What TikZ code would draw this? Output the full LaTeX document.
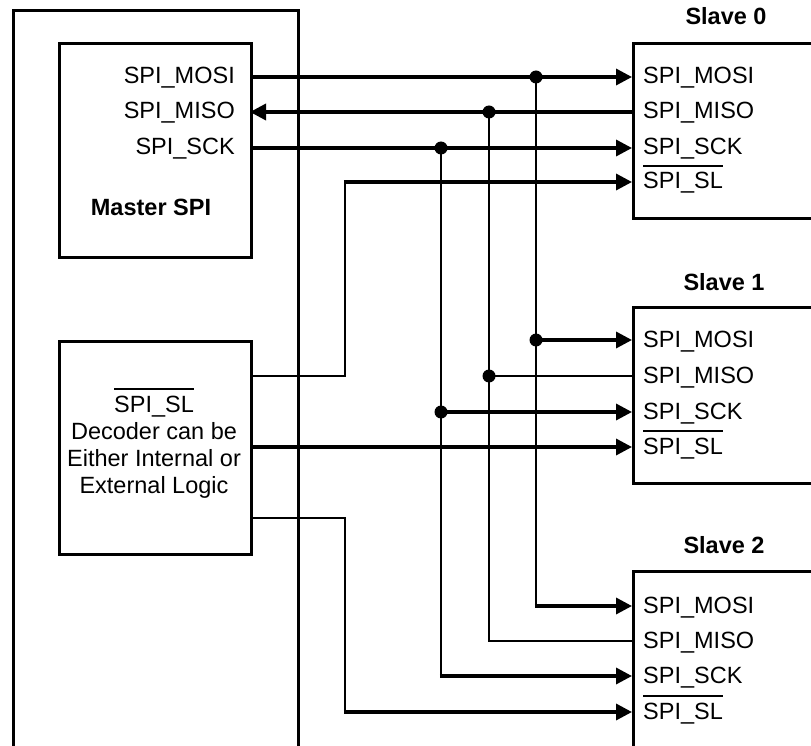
\documentclass[tikz,border=0pt]{standalone}
\usepackage{fontspec}
\setmainfont{Liberation Sans}
\usetikzlibrary{arrows.meta}
\newcommand\ovltext[1]{\setbox0\hbox{#1}\rlap{\rule[22pt]{\wd0}{1.8pt}}\box0}
\begin{document}
\begin{tikzpicture}[x=1pt,y=-1pt,
  lbl/.style={font=\fontsize{23.5}{27}\selectfont, inner sep=0pt},
  bold/.style={font=\fontsize{23.5}{27}\selectfont\bfseries, inner sep=0pt},
  box/.style={draw, line width=2.6pt, rectangle, inner sep=0pt, anchor=north west},
  sig/.style={line width=3.4pt},
  wire/.style={line width=2.4pt},
  arr/.style={-{Triangle[length=16pt,width=16pt]}},
  dot/.style={circle, fill, inner sep=0pt, minimum size=13pt}]
\useasboundingbox (0,0) rectangle (811,746);
\clip (0,0) rectangle (811,746);

% boxes
\node[box, minimum width=285pt, minimum height=800pt] (outer) at (12,9) {};
\node[box, minimum width=192pt, minimum height=214pt] (master) at (58,42) {};
\node[box, minimum width=192pt, minimum height=213pt] (decoder) at (58,340) {};
\node[box, minimum width=300pt, minimum height=175pt] (slave0) at (632,42.5) {};
\node[box, minimum width=300pt, minimum height=176pt] (slave1) at (632,306) {};
\node[box, minimum width=300pt, minimum height=300pt] (slave2) at (632,570) {};

% labels
\node[bold, anchor=base] (lslave0) at (726,25) {Slave 0};
\node[bold, anchor=base] (lslave1) at (724,290) {Slave 1};
\node[bold, anchor=base] (lslave2) at (724,553) {Slave 2};
\node[bold, anchor=base] (lmaster) at (151,215) {Master SPI};

\node[lbl, anchor=base east] (tm1) at (235,84) {SPI\_MOSI};
\node[lbl, anchor=base east] (tm2) at (235,119) {SPI\_MISO};
\node[lbl, anchor=base east] (tm3) at (235,155) {SPI\_SCK};

\node[lbl, anchor=base] (td1) at (154,412) {\ovltext{SPI\_SL}};
\node[lbl, anchor=base] (td2) at (154,439) {Decoder can be};
\node[lbl, anchor=base] (td3) at (154,466) {Either Internal or};
\node[lbl, anchor=base] (td4) at (154,493) {External Logic};

\foreach \s/\a/\b/\c/\d in {0/77/112/148/182, 1/340/376/412/447, 2/606/641/676/712}{
  \node[lbl, anchor=base west] (ts\s a) at (643,\a+7) {SPI\_MOSI};
  \node[lbl, anchor=base west] (ts\s b) at (643,\b+7) {SPI\_MISO};
  \node[lbl, anchor=base west] (ts\s c) at (643,\c+7) {SPI\_SCK};
  \node[lbl, anchor=base west] (ts\s d) at (643,\d+7) {\ovltext{SPI\_SL}};
  \coordinate (s\s mosi) at (632,\a);
  \coordinate (s\s miso) at (632,\b);
  \coordinate (s\s sck) at (632,\c);
  \coordinate (s\s sl) at (632,\d);
}

% master pins
\coordinate (mmosi) at (250,77);
\coordinate (mmiso) at (250,112);
\coordinate (msck) at (250,148);
% decoder pins
\coordinate (dsl0) at (250,376);
\coordinate (dsl1) at (250,447);
\coordinate (dsl2) at (250,518);

% junctions
\node[dot] (j0mosi) at (536,77) {};
\node[dot] (j1mosi) at (536,340) {};
\node[dot] (j0miso) at (489,112) {};
\node[dot] (j1miso) at (489,376) {};
\node[dot] (j0sck) at (441,148) {};
\node[dot] (j1sck) at (441,412) {};
\coordinate (c2mosi) at (536,606);
\coordinate (c2miso) at (489,641);
\coordinate (c2sck) at (441,676);
\coordinate (csl0a) at (345,376);
\coordinate (csl0b) at (345,182);
\coordinate (csl2a) at (345,518);
\coordinate (csl2b) at (345,712);

% MOSI
\draw[sig,arr] (mmosi) -- (s0mosi);
\draw[wire] (j0mosi.center) -- (c2mosi) -- ++(2,0);
\draw[sig,arr] (j1mosi.center) -- (s1mosi);
\draw[sig,arr] ([xshift=-1.2pt]c2mosi) -- (s2mosi);
% MISO
\draw[sig,arr] (s0miso) -- (mmiso);
\draw[wire] (j0miso.center) -- (c2miso) -- (s2miso);
\draw[wire] (s1miso) -- (j1miso.center);
% SCK
\draw[sig,arr] (msck) -- (s0sck);
\draw[wire] (j0sck.center) -- (c2sck) -- ++(2,0);
\draw[sig,arr] (j1sck.center) -- (s1sck);
\draw[sig,arr] ([xshift=-1.2pt]c2sck) -- (s2sck);
% SL
\draw[wire] (dsl0) -- (csl0a) -- (csl0b) -- ++(2,0);
\draw[sig,arr] ([xshift=-1.2pt]csl0b) -- (s0sl);
\draw[sig,arr] (dsl1) -- (s1sl);
\draw[wire] (dsl2) -- (csl2a) -- (csl2b) -- ++(2,0);
\draw[sig,arr] ([xshift=-1.2pt]csl2b) -- (s2sl);
\end{tikzpicture}
\end{document}
